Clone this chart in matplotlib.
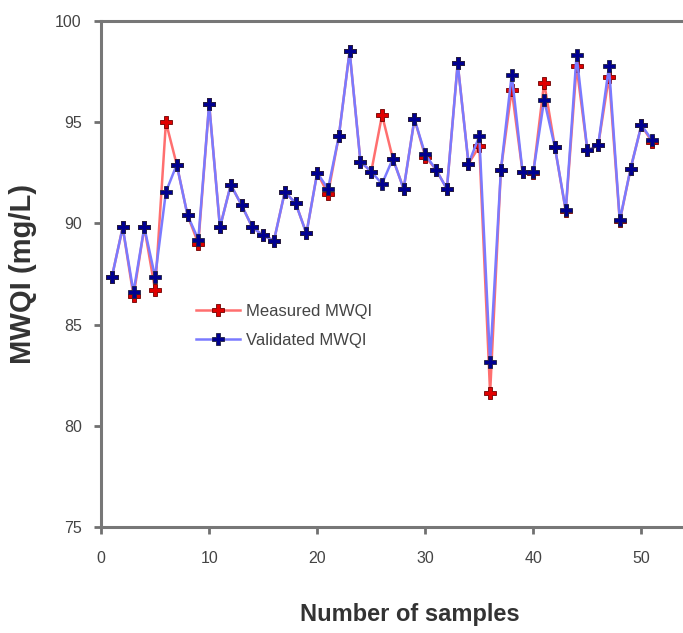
import matplotlib
matplotlib.use("Agg")
import matplotlib.pyplot as plt

samples = list(range(1, 52))
measured = [87.35, 89.8, 86.4, 89.8, 86.7, 95.0, 92.9, 90.4, 89.0, 95.9,
            89.8, 91.9, 90.9, 89.8, 89.4, 89.15, 91.55, 91.0, 89.5, 92.5,
            91.45, 94.3, 98.5, 93.05, 92.55, 95.35, 93.2, 91.7, 95.15, 93.3,
            92.65, 91.7, 97.9, 92.95, 93.8, 81.6, 92.65, 96.6, 92.55, 92.5,
            96.95, 93.75, 90.6, 97.75, 93.6, 93.85, 97.25, 90.1, 92.7, 94.85,
            94.0]
validated = [87.35, 89.8, 86.6, 89.8, 87.35, 91.55, 92.9, 90.4, 89.2, 95.9,
             89.8, 91.9, 90.9, 89.8, 89.4, 89.15, 91.55, 91.0, 89.5, 92.5,
             91.7, 94.3, 98.5, 93.05, 92.55, 91.95, 93.2, 91.7, 95.15, 93.4,
             92.65, 91.7, 97.9, 92.95, 94.3, 83.15, 92.65, 97.35, 92.55, 92.55,
             96.1, 93.75, 90.65, 98.3, 93.6, 93.85, 97.75, 90.15, 92.7, 94.85,
             94.1]
x_ticks = [0, 10, 20, 30, 40, 50]
y_ticks = [75, 80, 85, 90, 95, 100]

plt.rcParams['font.family'] = ['Liberation Sans', 'DejaVu Sans']

fig = plt.figure(figsize=(6.83, 6.33), dpi=100)
# the original plot area runs past the right edge of the picture
ax = fig.add_axes([0.148, 0.1675, 0.905, 0.7995])

ax.plot(samples, measured, color='#ff6f6f', lw=1.8, marker='P', ms=8,
        mfc='#e00000', mec='#700000', mew=0.6, label='Measured MWQI', zorder=3)
ax.plot(samples, validated, color='#7a7aff', lw=1.8, marker='P', ms=8,
        mfc='#000090', mec='#202040', mew=0.6, label='Validated MWQI', zorder=4)

ax.set_xlim(0, 57.2)
ax.set_ylim(75, 100)
ax.set_xticks(x_ticks)
ax.set_yticks(y_ticks)
ax.tick_params(axis='both', labelsize=11.5, color='#707070', width=2, length=5,
               labelcolor='#444444')
ax.tick_params(axis='x', pad=12)
ax.tick_params(axis='y', pad=9)
for s in ['left', 'bottom', 'top']:
    ax.spines[s].set_color('#777777')
    ax.spines[s].set_linewidth(2.2)
ax.spines['right'].set_visible(False)

ax.set_xlabel('Number of samples', fontsize=17, color='#333333', fontweight='bold', labelpad=27)
ax.set_ylabel('MWQI (mg/L)', fontsize=21, color='#333333', fontweight='bold', labelpad=13)

leg = ax.legend(loc='upper left', bbox_to_anchor=(0.13, 0.47), frameon=False,
                fontsize=12, handlelength=2.6, handletextpad=0.4, labelspacing=0.85)
for t in leg.get_texts():
    t.set_color('#444444')

fig.savefig('out.png', dpi=100)
